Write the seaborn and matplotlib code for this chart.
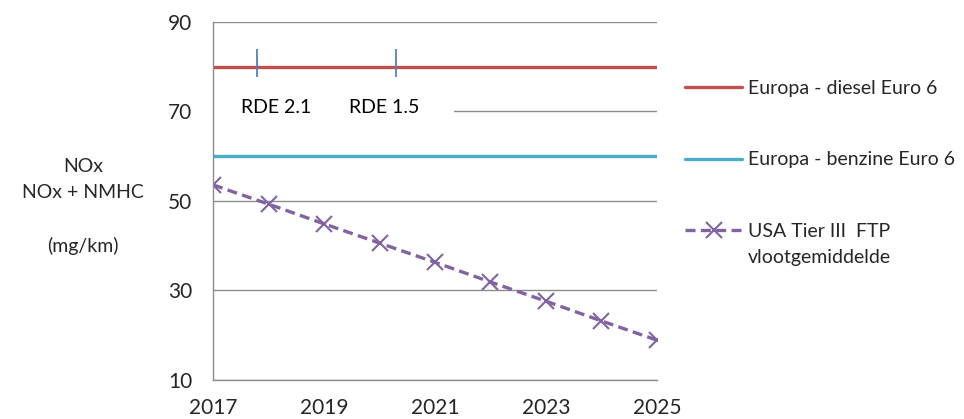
import matplotlib
matplotlib.use("Agg")
import matplotlib.pyplot as plt
from matplotlib.patches import Rectangle
import seaborn as sns
import pandas as pd

# Data
years = [2017, 2018, 2019, 2020, 2021, 2022, 2023, 2024, 2025]
usa_tier3 = [53.6, 49.3, 44.9, 40.6, 36.3, 31.9, 27.6, 23.2, 18.9]
eu_diesel = [80] * len(years)
eu_petrol = [60] * len(years)
rde_dates = [2017.8, 2020.3]
rde_labels = ["RDE 2.1", "RDE 1.5"]

series_labels = ["Europa - diesel Euro 6", "Europa - benzine Euro 6",
                 "USA Tier III  FTP"]
colors = ["#C0504D", "#4BACC6", "#8064A2"]

sns.set_style("white")
plt.rcParams["font.family"] = ["Lato", "DejaVu Sans"]

df = pd.DataFrame({"year": years, "diesel": eu_diesel,
                   "petrol": eu_petrol, "usa": usa_tier3})

fig = plt.figure(figsize=(9.64, 4.19), dpi=100)
ax = fig.add_axes([0.221, 0.0931, 0.4605, 0.8544])

sns.lineplot(data=df, x="year", y="diesel", ax=ax, color=colors[0],
             linewidth=2.4, label=series_labels[0])
sns.lineplot(data=df, x="year", y="petrol", ax=ax, color=colors[1],
             linewidth=2.4, label=series_labels[1])
sns.lineplot(data=df, x="year", y="usa", ax=ax, color=colors[2],
             linewidth=2.4, linestyle=(0, (3, 1.6)), marker="x",
             markersize=12, markeredgewidth=1.5,
             markeredgecolor=colors[2], label=series_labels[2])

# RDE markers on the diesel line
ax.scatter(rde_dates, [80.8] * len(rde_dates), marker="|", s=420,
           color="#4F81BD", linewidths=1.3, zorder=5)

# white box behind the RDE labels hides the 70 gridline there
ax.add_patch(Rectangle((2017, 69.0), 4.35, 4.6, facecolor="white",
                       edgecolor="none", zorder=1))
label_offsets = [0.34, -0.22]
for xd, lab, off in zip(rde_dates, rde_labels, label_offsets):
    ax.text(xd + off, 71.0, lab, ha="center", va="center", fontsize=14,
            color="black", zorder=4)

ax.set_xlim(2017, 2025)
ax.set_ylim(10, 90)
ax.set_xticks([2017, 2019, 2021, 2023, 2025])
ax.set_yticks([10, 30, 50, 70, 90])
ax.grid(axis="y", color="#8C8C8C", linewidth=1, zorder=0)
ax.grid(axis="x", visible=False)
ax.set_axisbelow(True)
for side in ["top", "right"]:
    ax.spines[side].set_visible(False)
for side in ["left", "bottom"]:
    ax.spines[side].set_color("#8C8C8C")
    ax.spines[side].set_linewidth(1)
ax.tick_params(axis="both", which="both", length=7, width=1,
               color="#8C8C8C", labelsize=15, direction="out")
ax.tick_params(axis="y", pad=8)
ax.tick_params(axis="x", pad=6)
ax.set_xlabel("")
ax.set_ylabel("")

fig.text(0.086, 0.508, "NOx\nNOx + NMHC\n\n(mg/km)", ha="center",
         va="center", fontsize=14, linespacing=1.65)

leg = ax.legend(loc="upper left", bbox_to_anchor=(685 / 964, 1 - 80 / 419),
                bbox_transform=fig.transFigure, frameon=False, fontsize=14,
                handlelength=2.95, handletextpad=0.3, labelspacing=2.8,
                borderpad=0, borderaxespad=0)
fig.text(748 / 964, 1 - 257 / 419, "vlootgemiddelde", ha="left",
         va="center", fontsize=14)

fig.savefig("out.png", dpi=100)
